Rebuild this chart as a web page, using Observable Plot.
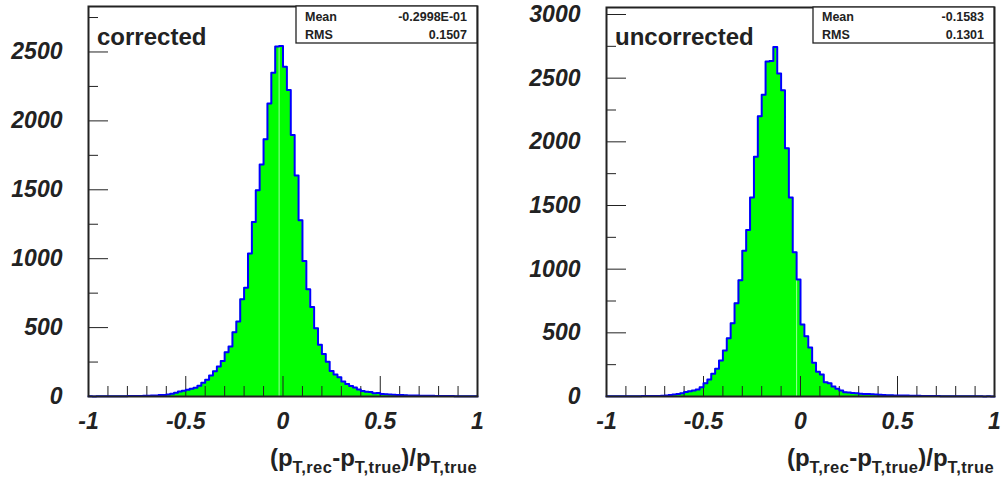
<!DOCTYPE html>
<html><head><meta charset="utf-8">
<script src="https://cdn.jsdelivr.net/npm/d3@7"></script>
<script src="https://cdn.jsdelivr.net/npm/@observablehq/plot@0.6"></script>
<style>
body{margin:0;background:#fff;}
#wrap{display:flex;width:1005px;height:483px;overflow:hidden;}
</style></head><body><div id="wrap"></div>
<script>
// ---- data ----
const xMajorTicks = [-1, -0.5, 0, 0.5, 1];
const xMinorTicks = [-0.9, -0.8, -0.7, -0.6, -0.4, -0.3, -0.2, -0.1, 0.1, 0.2, 0.3, 0.4, 0.6, 0.7, 0.8, 0.9];
const yMajorLeft = [0, 500, 1000, 1500, 2000, 2500];
const yMinorLeft = [250, 750, 1250, 1750, 2250, 2750];
const yMajorRight = [0, 500, 1000, 1500, 2000, 2500, 3000];
const yMinorRight = [250, 750, 1250, 1750, 2250, 2750];
const statNames = ["Mean", "RMS"];
const statsCorrected = ["-0.2998E-01", "0.1507"];
const statsUncorrected = ["-0.1583", "0.1301"];
const titleCorrected = "corrected";
const titleUncorrected = "uncorrected";
// 100 bins of width 0.02 from -1 to 1
const correctedCounts = [
  1,0,1,1,1,2,1,2,2,2,
  3,3,4,4,5,6,7,8,10,11,
  14,20,27,36,41,49,56,63,78,99,
  121,153,184,218,257,322,363,467,545,705,
  790,1037,1267,1497,1684,1866,2127,2350,2539,2544,
  2393,2224,1897,1604,1279,983,778,649,495,375,
  308,252,185,160,140,108,90,76,65,51,
  40,34,33,23,26,18,16,14,13,11,
  10,9,8,8,7,6,6,5,5,4,
  4,3,3,3,2,2,2,2,1,1
];
const uncorrectedCounts = [
  1,1,1,1,2,1,2,2,2,3,
  3,3,4,4,6,8,11,15,20,26,
  35,41,48,55,73,105,133,178,217,282,
  361,457,575,733,912,1145,1307,1563,1882,2201,
  2369,2630,2635,2745,2536,2405,1950,1563,1132,918,
  565,474,385,266,194,172,112,104,78,60,
  47,34,32,27,25,22,20,19,17,15,
  13,12,10,9,8,8,7,8,6,5,
  5,4,4,3,3,3,2,2,2,2,
  2,1,1,1,1,1,1,0,1,0
];
const xMin = -1, xMax = 1;
const binWidth = (xMax - xMin) / correctedCounts.length;

const FONT = "'Liberation Sans', Arial, Helvetica, sans-serif";

function steps(counts) {
  const pts = counts.map((v, i) => ({x: xMin + i * binWidth, v}));
  pts.push({x: xMax, v: counts[counts.length - 1]});
  return pts;
}

function panel(cfg) {
  const {counts, width, marginLeft, marginRight, marginTop, marginBottom, yMax, yMajor, yMinor, stats, title} = cfg;
  const height = 483;
  const fw = width - marginLeft - marginRight;
  const fh = height - marginTop - marginBottom;
  const pts = steps(counts);
  const seamIdx = 49; // faint seam in the fill at bin edge 49
  const seam = [{x: xMin + seamIdx * binWidth, v: Math.min(counts[seamIdx - 1], counts[seamIdx])}];
  const svg = Plot.plot({
    width, height, marginLeft, marginRight, marginTop, marginBottom,
    style: {background: "white", fontFamily: FONT, overflow: "visible"},
    x: {domain: [xMin, xMax], axis: null},
    y: {domain: [0, yMax], axis: null},
    marks: [
      Plot.areaY(pts, {x: "x", y: "v", curve: "step-after", fill: "#00ff00"}),
      Plot.ruleX(seam, {x: "x", y1: 0, y2: "v", stroke: "#9cff9c", strokeWidth: 1}),
      Plot.tickY(yMajor, {y: d => d, insetRight: fw - 20, stroke: "#222", strokeWidth: 1}),
      Plot.tickY(yMinor, {y: d => d, insetRight: fw - 10, stroke: "#222", strokeWidth: 1}),
      Plot.tickX(xMajorTicks, {x: d => d, insetTop: fh - 20, stroke: "#222", strokeWidth: 1}),
      Plot.tickX(xMinorTicks, {x: d => d, insetTop: fh - 10, stroke: "#222", strokeWidth: 1}),
      Plot.lineY(pts, {x: "x", y: "v", curve: "step-after", stroke: "#0000ff", strokeWidth: 2}),
      Plot.frame({stroke: "#222", strokeWidth: 2}),
      Plot.text(yMajor, {y: d => d, text: d => String(d), frameAnchor: "left", dx: -26, textAnchor: "end", lineAnchor: "middle",
        fontSize: 23, fontWeight: "bold", fontStyle: "italic", fill: "#222", fontFamily: FONT}),
      Plot.text(xMajorTicks, {x: d => d, text: d => String(d), frameAnchor: "bottom", dy: 32, lineAnchor: "bottom", textAnchor: "middle",
        fontSize: 23, fontWeight: "bold", fontStyle: "italic", fill: "#222", fontFamily: FONT})
    ]
  });
  const s = d3.select(svg);
  // enforce tick-label font style
  s.selectAll('g[aria-label="text"]').attr("font-size", 23).attr("font-weight", "bold").attr("font-style", "italic")
    .style("font-size", "23px").style("font-weight", "bold").style("font-style", "italic");
  const right = width - marginRight;
  // stats box
  const bx = right - 181, by = marginTop, bw = 181, bh = 43 - marginTop;
  s.append("rect").attr("x", bx).attr("y", by).attr("width", bw).attr("height", bh)
    .attr("fill", "white").attr("stroke", "#222").attr("stroke-width", 1.3);
  statNames.forEach((n, i) => {
    const yb = 21 + i * 18;
    s.append("text").attr("x", bx + 9).attr("y", yb).attr("font-size", 12.5).attr("font-weight", "bold")
      .attr("text-anchor", "start").attr("font-family", FONT).attr("fill", "#222").text(n);
    s.append("text").attr("x", right - 10).attr("y", yb).attr("font-size", 12.5).attr("font-weight", "bold")
      .attr("text-anchor", "end").attr("font-family", FONT).attr("fill", "#222").text(stats[i]);
  });
  // panel title
  s.append("text").attr("x", marginLeft + 9).attr("y", 45).attr("font-size", 24).attr("font-weight", "bold")
    .attr("text-anchor", "start").attr("font-family", FONT).attr("fill", "#222").text(title);
  // axis title with subscripts
  const t = s.append("text").attr("x", right).attr("y", 466).attr("text-anchor", "end")
    .attr("font-size", 24).attr("font-weight", "bold").attr("font-family", FONT).attr("fill", "#222");
  const parts = [["(p", 0], ["T,rec", 1], ["-p", 0], ["T,true", 1], [")/p", 0], ["T,true", 1]];
  let cur = 0;
  parts.forEach(([txt, sub]) => {
    const target = sub ? 7 : 0;
    t.append("tspan").attr("dy", target - cur).attr("font-size", sub ? 16.5 : 24)
      .attr("letter-spacing", sub ? 0.4 : 0).text(txt);
    cur = target;
  });
  return svg;
}

const wrap = document.getElementById("wrap");
wrap.appendChild(panel({counts: correctedCounts, width: 505, marginLeft: 88, marginRight: 28, marginTop: 6, marginBottom: 87,
  yMax: 2830, yMajor: yMajorLeft, yMinor: yMinorLeft, stats: statsCorrected, title: titleCorrected}));
wrap.appendChild(panel({counts: uncorrectedCounts, width: 500, marginLeft: 101, marginRight: 11, marginTop: 7, marginBottom: 87,
  yMax: 3055, yMajor: yMajorRight, yMinor: yMinorRight, stats: statsUncorrected, title: titleUncorrected}));
</script>
</body></html>
